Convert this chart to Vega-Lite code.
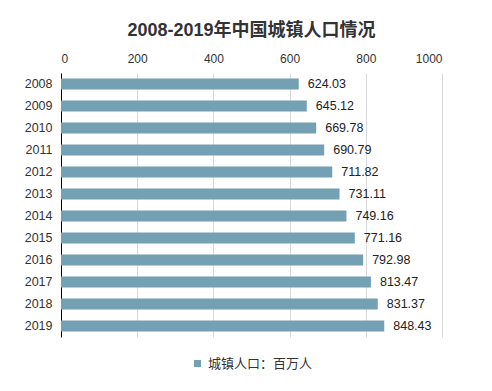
{
  "$schema": "https://vega.github.io/schema/vega-lite/v6.json",
  "width": 381,
  "height": 264,
  "autosize": {"type": "none"},
  "padding": {"left": 61, "top": 73, "right": 50, "bottom": 54},
  "background": "white",
  "title": {
    "text": "2008-2019年中国城镇人口情况",
    "font": "Liberation Sans, Noto Sans CJK SC",
    "fontSize": 18,
    "fontWeight": "bold",
    "color": "#333333",
    "anchor": "middle",
    "offset": 12
  },
  "data": {
    "values": [
      {"year": "2008", "value": 624.03, "series": "城镇人口：百万人"},
      {"year": "2009", "value": 645.12, "series": "城镇人口：百万人"},
      {"year": "2010", "value": 669.78, "series": "城镇人口：百万人"},
      {"year": "2011", "value": 690.79, "series": "城镇人口：百万人"},
      {"year": "2012", "value": 711.82, "series": "城镇人口：百万人"},
      {"year": "2013", "value": 731.11, "series": "城镇人口：百万人"},
      {"year": "2014", "value": 749.16, "series": "城镇人口：百万人"},
      {"year": "2015", "value": 771.16, "series": "城镇人口：百万人"},
      {"year": "2016", "value": 792.98, "series": "城镇人口：百万人"},
      {"year": "2017", "value": 813.47, "series": "城镇人口：百万人"},
      {"year": "2018", "value": 831.37, "series": "城镇人口：百万人"},
      {"year": "2019", "value": 848.43, "series": "城镇人口：百万人"}
    ]
  },
  "encoding": {
    "y": {
      "field": "year",
      "type": "nominal",
      "sort": null,
      "scale": {"paddingInner": 0.5, "paddingOuter": 0.25},
      "axis": {
        "title": null,
        "domain": true,
        "domainColor": "#000000",
        "domainWidth": 1,
        "ticks": false,
        "labelPadding": 9,
        "labelFont": "Liberation Sans",
        "labelFontSize": 12.5,
        "labelColor": "#333333",
        "grid": false
      }
    },
    "x": {
      "field": "value",
      "type": "quantitative",
      "scale": {"domain": [0, 1000], "nice": false},
      "axis": {
        "orient": "top",
        "title": null,
        "values": [0, 200, 400, 600, 800, 1000],
        "format": "d",
        "domain": false,
        "ticks": false,
        "labelPadding": 8,
        "labelFont": "Liberation Sans",
        "labelFontSize": 12,
        "labelColor": "#333333",
        "grid": true,
        "gridColor": "#D9D9D9",
        "gridWidth": 1
      }
    }
  },
  "layer": [
    {
      "mark": {"type": "bar"},
      "encoding": {
        "color": {
          "field": "series",
          "type": "nominal",
          "scale": {"range": ["#73A0B2"]},
          "legend": {
            "title": null,
            "orient": "bottom",
            "direction": "horizontal",
            "offset": 20,
            "symbolType": "square",
            "symbolSize": 50,
            "symbolStrokeWidth": 0,
            "labelFont": "Noto Sans CJK SC",
            "labelFontSize": 13,
            "labelColor": "#333333",
            "labelOffset": 4
          }
        }
      }
    },
    {
      "mark": {
        "type": "text",
        "align": "left",
        "baseline": "middle",
        "dx": 9,
        "font": "Liberation Sans",
        "fontSize": 12.5,
        "color": "#222222"
      },
      "encoding": {
        "text": {"field": "value", "type": "quantitative", "format": ".2f"}
      }
    }
  ],
  "config": {
    "view": {"stroke": null},
    "legend": {"layout": {"bottom": {"anchor": "middle"}}}
  }
}
